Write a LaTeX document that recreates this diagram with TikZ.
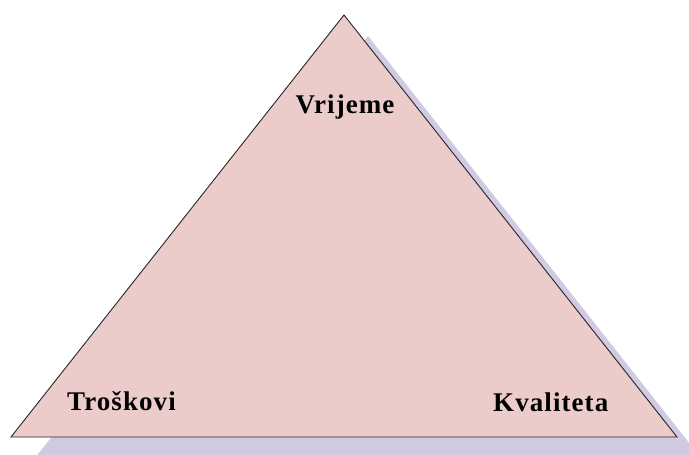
\documentclass[tikz,border=0pt]{standalone}
\usepackage{fontspec}
\setmainfont{Liberation Serif}
\definecolor{trifill}{RGB}{236,204,203}
\definecolor{shadowfill}{RGB}{208,202,226}
\begin{document}
\begin{tikzpicture}[x=1pt,y=-1pt,
  lbl/.style={inner sep=0pt, font=\fontsize{27}{29}\selectfont\bfseries\addfontfeature{LetterSpace=4}}]
\useasboundingbox (0,0) rectangle (689,455);
\begin{scope}
\clip (0,0) rectangle (689,455);
\coordinate (sa) at (368,36);
\coordinate (sl) at (35,458);
\coordinate (sr) at (701,458);
\fill[shadowfill] (sa) -- (sl) -- (sr) -- cycle;
\end{scope}
\coordinate (a) at (344,15);
\coordinate (l) at (11,437);
\coordinate (r) at (677,437);
\filldraw[fill=trifill, draw=black!85, line width=0.9pt, line join=miter] (a) -- (l) -- (r) -- cycle;
\node[lbl, anchor=base] (vr) at (345,113) {Vrijeme};
\node[lbl, anchor=base west] (tr) at (67,410) {Troškovi};
\node[lbl, anchor=base west] (kv) at (493,411) {Kvaliteta};
\end{tikzpicture}
\end{document}
